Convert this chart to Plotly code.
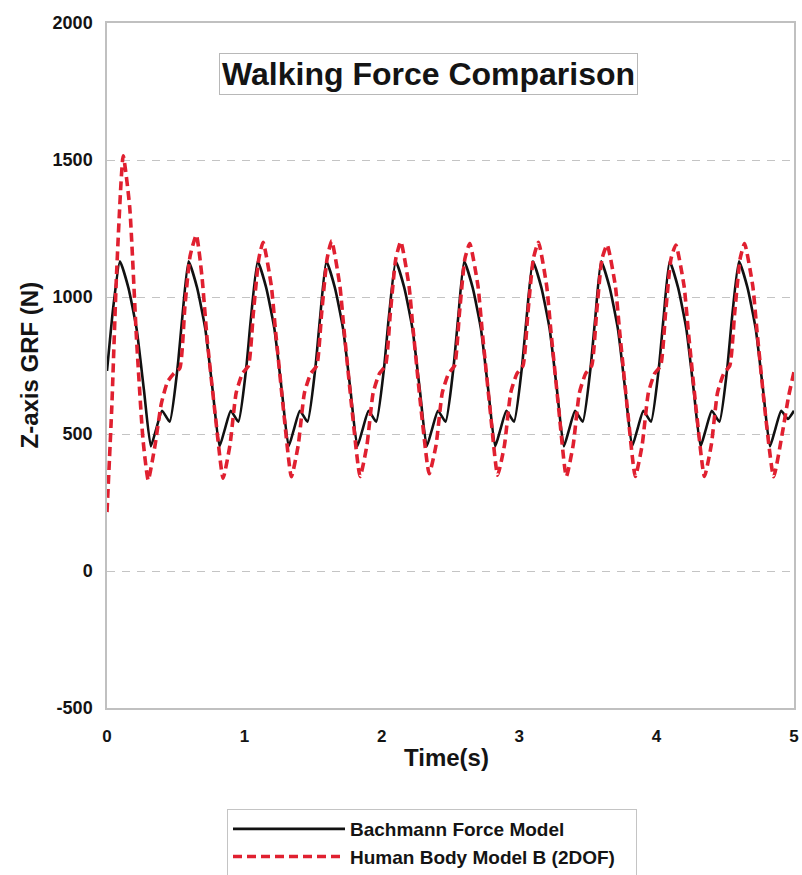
import plotly.graph_objects as go

# ---- data ----
bachmann_t = [0.000, 0.046, 0.094,
              0.155, 0.215, 0.269, 0.319, 0.359, 0.401, 0.456, 0.512, 0.547, 0.594,
              0.655, 0.715, 0.769, 0.819, 0.859, 0.901, 0.956, 1.012, 1.047, 1.097,
              1.158, 1.218, 1.272, 1.322, 1.362, 1.404, 1.459, 1.515, 1.550, 1.597,
              1.658, 1.718, 1.772, 1.822, 1.862, 1.904, 1.959, 2.015, 2.050, 2.102,
              2.163, 2.223, 2.277, 2.327, 2.367, 2.409, 2.464, 2.520, 2.555, 2.600,
              2.661, 2.721, 2.775, 2.825, 2.865, 2.907, 2.962, 3.018, 3.053, 3.100,
              3.161, 3.221, 3.275, 3.325, 3.365, 3.407, 3.462, 3.518, 3.553, 3.597,
              3.658, 3.718, 3.772, 3.822, 3.862, 3.904, 3.959, 4.015, 4.050, 4.095,
              4.156, 4.216, 4.270, 4.320, 4.360, 4.402, 4.457, 4.513, 4.548, 4.600,
              4.661, 4.721, 4.775, 4.825, 4.865, 4.907, 4.955, 5.000]
bachmann_f = [730, 965, 1130,
              1035, 885, 660, 455, 520, 585, 545, 735, 920, 1130,
              1035, 885, 660, 455, 520, 585, 545, 735, 920, 1130,
              1035, 885, 660, 455, 520, 585, 545, 735, 920, 1130,
              1035, 885, 660, 455, 520, 585, 545, 735, 920, 1130,
              1035, 885, 660, 455, 520, 585, 545, 735, 920, 1130,
              1035, 885, 660, 455, 520, 585, 545, 735, 920, 1130,
              1035, 885, 660, 455, 520, 585, 545, 735, 920, 1130,
              1035, 885, 660, 455, 520, 585, 545, 735, 920, 1130,
              1035, 885, 660, 455, 520, 585, 545, 735, 920, 1130,
              1035, 885, 660, 455, 520, 585, 555, 585]

hbm_t = [0.000, 0.035, 0.070, 0.118, 0.165, 0.215, 0.262, 0.300,
         0.350, 0.395, 0.440, 0.485, 0.530, 0.567, 0.605, 0.650,
         0.690, 0.730, 0.790, 0.845,
         0.895, 0.940, 0.985, 1.030, 1.065, 1.105, 1.136,
         1.196, 1.226, 1.286, 1.342,
         1.392, 1.437, 1.482, 1.527, 1.562, 1.602, 1.635,
         1.695, 1.725, 1.785, 1.842,
         1.892, 1.937, 1.982, 2.027, 2.062, 2.102, 2.138,
         2.198, 2.228, 2.288, 2.345,
         2.395, 2.440, 2.485, 2.530, 2.565, 2.605, 2.640,
         2.700, 2.730, 2.790, 2.843,
         2.893, 2.938, 2.983, 3.028, 3.063, 3.103, 3.140,
         3.200, 3.230, 3.290, 3.343,
         3.393, 3.438, 3.483, 3.528, 3.563, 3.603, 3.640,
         3.700, 3.730, 3.790, 3.845,
         3.895, 3.940, 3.985, 4.030, 4.065, 4.105, 4.140,
         4.200, 4.230, 4.290, 4.348,
         4.398, 4.443, 4.488, 4.533, 4.568, 4.608, 4.640,
         4.700, 4.730, 4.790, 4.852,
         4.915, 4.960, 5.000]
hbm_f = [215, 600, 1090, 1515, 1330, 845, 480, 332,
         460, 610, 690, 720, 740, 965, 1150, 1226,
         1080, 840, 560, 339,
         460, 650, 720, 750, 940, 1140, 1200,
         1040, 880, 580, 344,
         460, 650, 720, 750, 940, 1140, 1205,
         1040, 880, 580, 345,
         460, 650, 720, 750, 940, 1140, 1202,
         1040, 880, 580, 355,
         460, 650, 720, 750, 940, 1140, 1195,
         1040, 880, 580, 350,
         460, 650, 720, 750, 940, 1140, 1200,
         1040, 880, 580, 345,
         460, 650, 720, 750, 940, 1140, 1190,
         1040, 880, 580, 345,
         460, 650, 720, 750, 940, 1140, 1190,
         1040, 880, 580, 345,
         460, 650, 720, 750, 940, 1140, 1195,
         1040, 880, 580, 344,
         503, 636, 727]

x_ticks = [0, 1, 2, 3, 4, 5]
y_ticks = [-500, 0, 500, 1000, 1500, 2000]
series_names = ["Bachmann Force Model", "Human Body Model B (2DOF)"]

FONT = "Liberation Sans, Arial, Helvetica, sans-serif"
TXT = "#141414"
NB = "\u00a0"

fig = go.Figure()
fig.add_trace(go.Scatter(
    x=bachmann_t, y=bachmann_f, mode="lines", name=series_names[0],
    line=dict(color="#111111", width=2.6, shape="spline", smoothing=0.5),
))
fig.add_trace(go.Scatter(
    x=hbm_t, y=hbm_f, mode="lines", name=series_names[1] + NB * 3,
    line=dict(color="#e02030", width=3.6, dash="9px,5px", shape="spline", smoothing=0.5),
))

fig.update_layout(
    width=802, height=875,
    margin=dict(l=107, r=8, t=23, b=167, autoexpand=False),
    paper_bgcolor="white", plot_bgcolor="white",
    font=dict(family=FONT, color=TXT),
    showlegend=True,
    legend=dict(
        x=(227 - 107) / 687, xanchor="left", y=(708 - 809) / 685, yanchor="top",
        bgcolor="white", bordercolor="#c4c4c4", borderwidth=1,
        font=dict(family=FONT, size=19, color=TXT, weight="bold"),
        itemwidth=112, tracegroupgap=0,
    ),
    xaxis=dict(
        range=[0, 5], tickvals=x_ticks, ticktext=[str(v) for v in x_ticks],
        showgrid=False, zeroline=False, automargin=False,
        showline=True, mirror=True, linecolor="#c0c0c0", linewidth=1.5,
        ticks="", ticklabelstandoff=12,
        tickfont=dict(family=FONT, size=17, color=TXT, weight="bold"),
    ),
    yaxis=dict(
        range=[-500, 2000], tickvals=y_ticks, ticktext=[str(v) for v in y_ticks],
        showgrid=True, gridcolor="#c4c4c4", gridwidth=1.3, griddash="8px,7px",
        zeroline=False, automargin=False,
        showline=True, mirror=True, linecolor="#c0c0c0", linewidth=1.5,
        ticks="", ticklabelstandoff=9,
        tickfont=dict(family=FONT, size=18, color=TXT, weight="bold"),
    ),
    annotations=[
        dict(text="Walking Force Comparison", x=2.34, y=1815, xref="x", yref="y",
             showarrow=False, font=dict(family=FONT, size=32, color=TXT, weight="bold"),
             bgcolor="white", bordercolor="#b8b8b8", borderwidth=1, borderpad=2),
        dict(text="Time(s)", x=(446 - 107) / 687, y=(708 - 757) / 685, xref="paper", yref="paper",
             yanchor="middle", showarrow=False,
             font=dict(family=FONT, size=24, color=TXT, weight="bold")),
        dict(text="Z-axis GRF (N)", x=(29 - 107) / 687, y=0.5, xref="paper", yref="paper",
             xanchor="center", yanchor="middle", showarrow=False, textangle=-90,
             font=dict(family=FONT, size=24, color=TXT, weight="bold")),
    ],
)

fig.write_html("out.html",
               config={"displayModeBar": False},
               post_script="document.body.style.margin='0px';document.body.style.overflow='hidden';")
